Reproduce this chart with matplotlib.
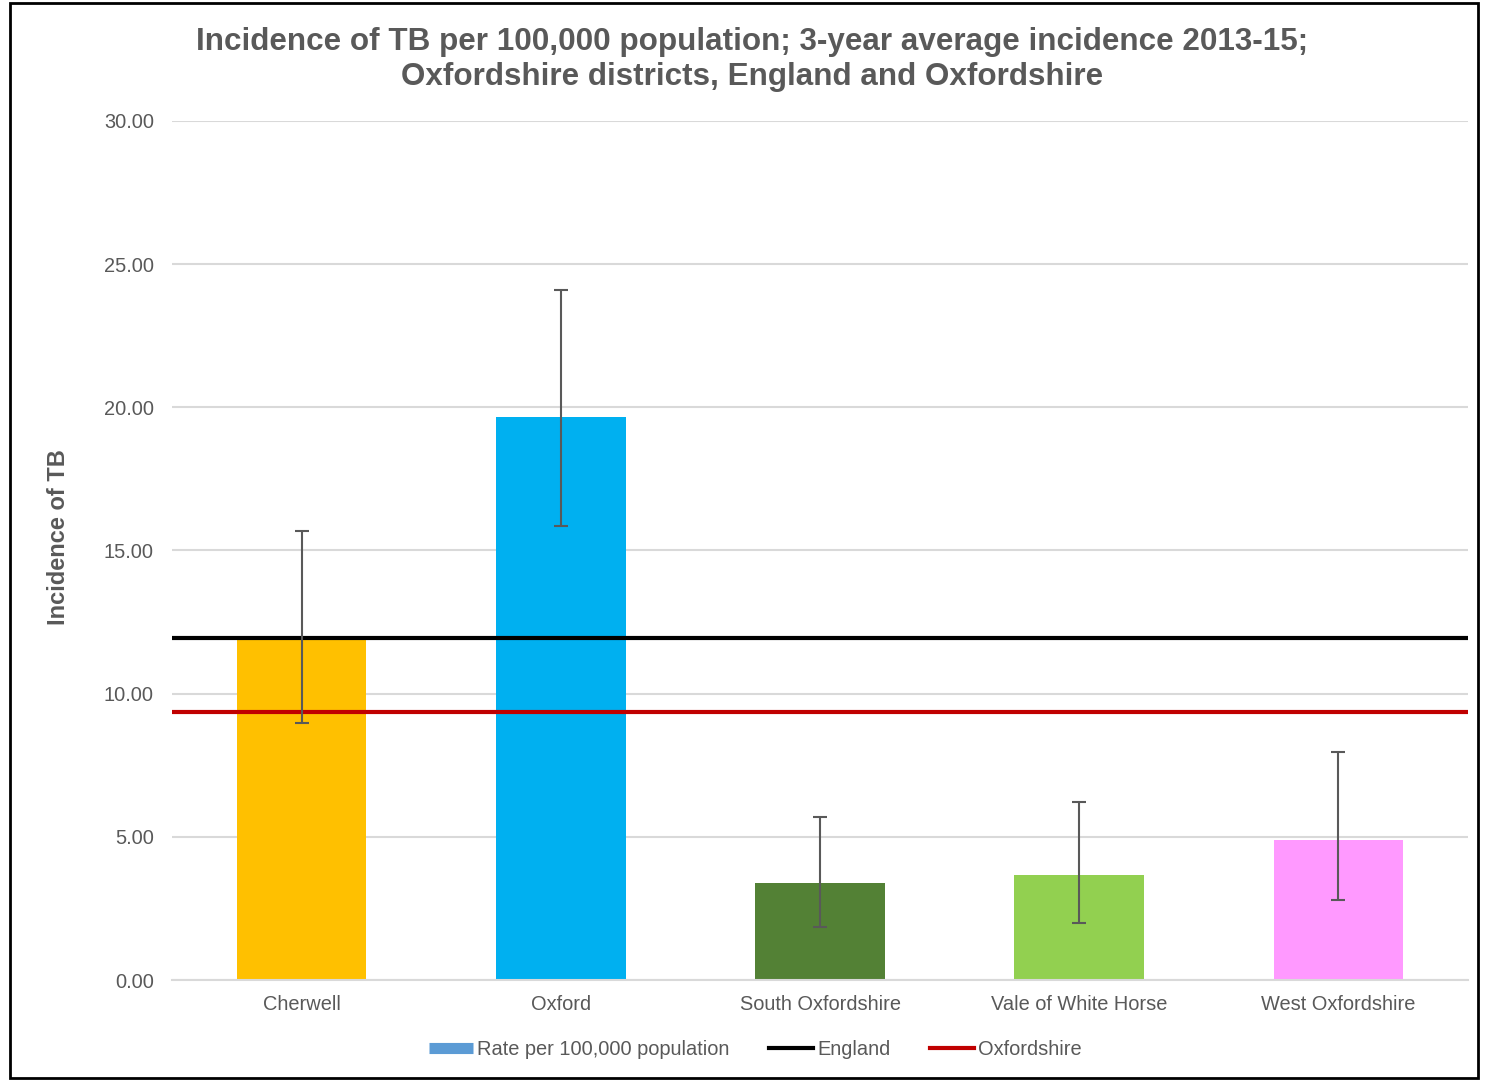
import matplotlib.pyplot as plt
from matplotlib.patches import Rectangle
from matplotlib.lines import Line2D

plt.rcParams['font.family'] = ['Liberation Sans', 'DejaVu Sans']

# data
districts = ["Cherwell", "Oxford", "South Oxfordshire", "Vale of White Horse", "West Oxfordshire"]
rates = [11.87, 19.66, 3.39, 3.67, 4.89]
ci_low = [8.98, 15.86, 1.85, 1.99, 2.79]
ci_high = [15.68, 24.10, 5.69, 6.22, 7.96]
england = 11.95
oxfordshire = 9.36
bar_colors = ["#FFC000", "#00B0F0", "#538135", "#92D050", "#FF99FF"]

grey = "#595959"

fig = plt.figure(figsize=(14.87, 10.81), dpi=100)
ax = fig.add_axes([0.1157, 0.0934, 0.8715, 0.7947])

x = range(len(districts))
yerr = [[r - lo for r, lo in zip(rates, ci_low)],
        [hi - r for r, hi in zip(rates, ci_high)]]
ax.bar(x, rates, width=0.5, color=bar_colors, zorder=2)
ax.errorbar(x, rates, yerr=yerr, fmt="none", ecolor=grey, elinewidth=1.5,
            capsize=5, capthick=1.5, zorder=4)
ax.axhline(england, color="black", lw=3, zorder=3)
ax.axhline(oxfordshire, color="#C00000", lw=3, zorder=3)

ax.set_xlim(-0.5, 4.5)
ax.set_ylim(0, 30)
ax.set_yticks([0, 5, 10, 15, 20, 25, 30])
ax.set_yticklabels([f"{v:.2f}" for v in [0, 5, 10, 15, 20, 25, 30]])
ax.set_xticks(list(x))
ax.set_xticklabels(districts)
ax.tick_params(axis="both", length=0, labelsize=14.4, labelcolor=grey, pad=11)
ax.tick_params(axis="y", pad=13)
ax.grid(axis="y", color="#D9D9D9", lw=1.5, zorder=0)
for s in ["top", "right", "left"]:
    ax.spines[s].set_visible(False)
ax.spines["bottom"].set_color("#D9D9D9")
ax.spines["bottom"].set_linewidth(1.5)

ax.set_ylabel("Incidence of TB", fontsize=17, fontweight="bold", color=grey)
ax.yaxis.set_label_coords(-0.079, 0.516)

fig.suptitle("Incidence of TB per 100,000 population; 3-year average incidence 2013-15;\n"
             "Oxfordshire districts, England and Oxfordshire",
             x=0.506, y=0.975, fontsize=22.6, fontweight="bold", color=grey, linespacing=1.22)

handles = [Line2D([], [], color="#5B9BD5", lw=8, solid_capstyle="butt"),
           Line2D([], [], color="black", lw=3),
           Line2D([], [], color="#C00000", lw=3)]
labels = ["Rate per 100,000 population", "England", "Oxfordshire"]
leg = fig.legend(handles, labels, loc="center", bbox_to_anchor=(0.508, 0.0295), ncol=3,
                 frameon=False, fontsize=14.4, handlelength=2.2, handletextpad=0.2,
                 columnspacing=2.0)
for t in leg.get_texts():
    t.set_color(grey)

fig.patches.append(Rectangle((10 / 1487, 3 / 1081), 1468 / 1487, 1075 / 1081,
                             transform=fig.transFigure, fill=False, edgecolor="black", lw=2))

fig.savefig("out.png", dpi=100)
